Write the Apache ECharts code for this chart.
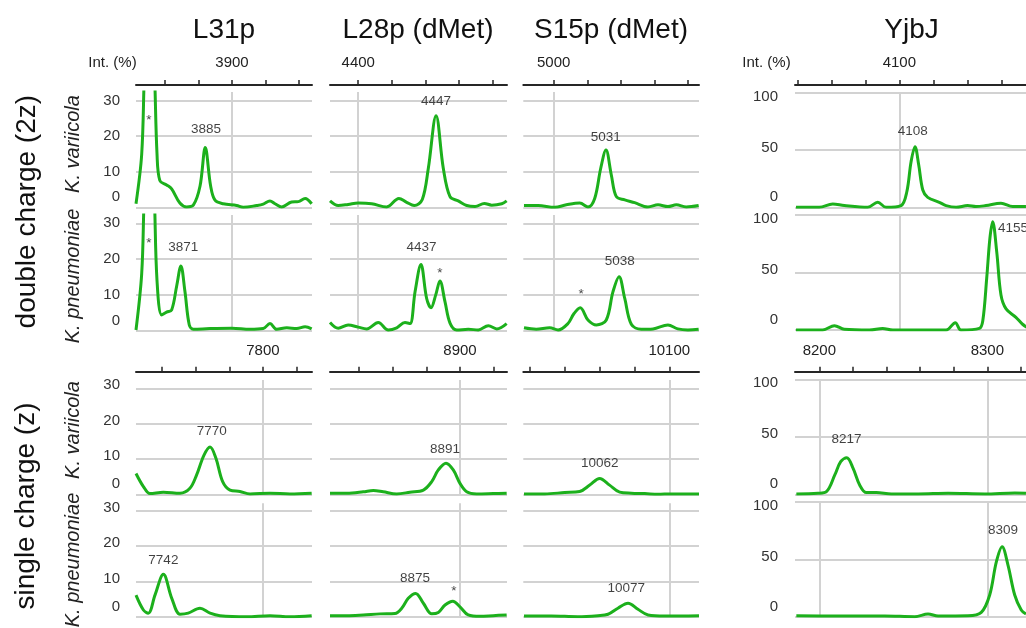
<!DOCTYPE html>
<html>
<head>
<meta charset="utf-8">
<script src="https://cdn.jsdelivr.net/npm/echarts@6/dist/echarts.min.js"></script>
<style>html,body{margin:0;padding:0;background:#fff}#c{width:1026px;height:628px}</style>
</head>
<body>
<div id="c"></div>
<script>
// ---------------- text ----------------
const proteins = ['L31p', 'L28p (dMet)', 'S15p (dMet)', 'YjbJ'];
const charges = ['double charge (2z)', 'single charge (z)'];
const strains = ['K. variicola', 'K. pneumoniae'];
const intLabel = 'Int. (%)';

// ---------------- axes (m/z) ----------------
const range2z = [[3842.9, 3947.6], [4383.2, 4488.5], [4981.9, 5086.5], [4038.6, 4200]];
const range1z = [[7724.4, 7829.2], [8822.6, 8928.0], [10016.1, 10117.1], [8185.5, 8348.8]];
const ticks2z = [[3860, 3880, 3900, 3920, 3940], [4400, 4420, 4440, 4460, 4480], [5000, 5020, 5040, 5060, 5080], [4040, 4060, 4080, 4100, 4120, 4140, 4160, 4180]];
const labels2z = [[3900], [4400], [5000], [4100]];
const ticks1z = [[7740, 7760, 7780, 7800, 7820], [8840, 8860, 8880, 8900, 8920], [10020, 10040, 10060, 10080, 10100], [8200, 8220, 8240, 8260, 8280, 8300, 8320, 8340]];
const labels1z = [[7800], [8900], [10100], [8200, 8300]];
const yMaxPct = [32.45, 32.32, 32.35, 32.1];
const yMaxYjbJ = 100;

// ---------------- spectra [m/z, intensity %] ----------------
const L31p_2z_Kvar = [[3842.9,1.0],[3846.3,15],[3847.9,38],[3850.9,70],[3853.9,38],[3855.4,15],[3857.1,7.5],[3861.1,6.3],[3864.1,5.2],[3869.0,1.2],[3873.0,0.1],[3877.0,0.6],[3881.0,6.0],[3884.1,16.8],[3887.3,6.0],[3889.9,2.0],[3894.8,1.0],[3902.8,0.5],[3906.7,0.0],[3914.7,0.5],[3918.6,0.9],[3922.6,1.8],[3925.6,1.0],[3929.6,0.1],[3935.5,1.5],[3939.5,1.6],[3943.5,2.5],[3947.4,1.0]];
const L31p_2z_Kpn = [[3842.9,0.2],[3846.3,16],[3847.8,38],[3850.9,70],[3853.8,38],[3855.4,14],[3858.2,4.4],[3861.1,5.2],[3864.1,5.8],[3867.1,12.5],[3869.6,18.1],[3872.0,11],[3874.6,1.6],[3877.0,0.4],[3886.9,0.6],[3900,0.7],[3910.7,0.4],[3918.6,0.6],[3922.6,2.0],[3926.6,0.4],[3932.6,0.8],[3938.5,0.6],[3943.5,1.1],[3947.4,0.5]];
const L28p_2z_Kvar = [[4383.2,1.8],[4388.1,0.5],[4394.0,0.8],[4400,1.2],[4408.0,1.0],[4416.9,0.1],[4424.2,2.5],[4428.8,1.4],[4433.3,0.5],[4438.1,2.2],[4441.7,11],[4446.3,25.8],[4450.6,11],[4454.6,3.0],[4459.5,1.8],[4464.5,0.5],[4469.5,0.2],[4475.0,1.1],[4479.4,0.6],[4485.4,1.0],[4488.3,1.8]];
const L28p_2z_Kpn = [[4383.2,2.3],[4388.1,0.7],[4394.0,1.6],[4400,1.0],[4405.0,0.5],[4411.9,2.3],[4417.9,0.2],[4422.9,0.8],[4427.8,2.3],[4430.8,2.0],[4433.8,10.9],[4437.3,18.5],[4440.7,9.0],[4443.3,6.4],[4446.1,10.0],[4448.6,13.9],[4451.6,8.1],[4454.6,2.1],[4458.6,0.2],[4465.5,0.4],[4471.4,0.2],[4477.4,1.4],[4482.4,0.5],[4488.3,2.0]];
const S15p_2z_Kvar = [[4982.3,0.5],[4990.7,0.5],[5000.6,0],[5007.5,0.7],[5015.5,1.2],[5020.4,0.1],[5024.4,2.5],[5028.0,11.0],[5031.1,16.1],[5034.3,9.1],[5037.3,3.0],[5042.3,2.1],[5048.2,1.3],[5056.1,0.1],[5062.1,0.7],[5068.0,0.2],[5073.0,0.7],[5078.9,0.1],[5086.3,0.5]];
const S15p_2z_Kpn = [[4982.3,0.8],[4989.6,0.4],[4997.6,0.8],[5002.6,0.2],[5008.5,2.0],[5012.1,4.8],[5015.8,6.4],[5020.4,3.0],[5025.4,1.6],[5031.3,3.0],[5035.3,10.9],[5038.9,15.1],[5042.3,9.0],[5046.2,1.8],[5052.1,0.4],[5059.1,0.5],[5068.0,1.6],[5073.9,0.5],[5079.9,0.2],[5086.3,0.4]];
const YjbJ_2z_Kvar = [[4039.2,0],[4052.9,0],[4060.8,2.9],[4067.6,1.5],[4081.4,0],[4087.3,4.4],[4092.2,0],[4101.0,1.5],[4104.4,13.6],[4106.9,39.8],[4109.2,52.9],[4111.4,36.9],[4113.8,15.1],[4116.7,8.7],[4123.5,4.4],[4127.5,1.5],[4133.4,0],[4140.2,1.5],[4145.1,0.6],[4151.0,1.5],[4159.8,3.5],[4166.7,0.6],[4174.5,0.6]];
const YjbJ_2z_Kpn = [[4039.2,0],[4054.9,0],[4061.8,3.8],[4067.6,0.6],[4082.4,0],[4090.2,1.4],[4096.1,0],[4127.5,0],[4132.9,6.4],[4136.3,0],[4147.1,1.4],[4149.1,8],[4151.4,45],[4153.3,80],[4154.9,94.2],[4157.3,68],[4159.8,30.4],[4162.8,18.3],[4168.6,11.0],[4172.5,5],[4176,1.5]];
const L31p_1z_Kvar = [[7724.4,5.9],[7728.8,2.2],[7732.7,0.2],[7740.7,0.6],[7750.6,0.3],[7756.5,1.7],[7760.5,5.5],[7764.9,11.1],[7768.5,13.4],[7772.0,10.2],[7776.0,3.6],[7780.4,1.2],[7786.3,0.8],[7792.3,0.1],[7804.2,0.3],[7816.1,0.1],[7829.0,0.3]];
const L31p_1z_Kpn = [[7724.4,6.1],[7728.8,1.9],[7731.7,1.0],[7735.7,6.1],[7740.7,12.0],[7745.7,5.2],[7750.6,0.7],[7755.5,1.0],[7762.5,2.4],[7768.5,1.0],[7774.4,0.3],[7790.3,0],[7804.2,0.3],[7816.1,0],[7829.0,0.3]];
const L28p_1z_Kvar = [[8822.6,0.3],[8832.6,0.3],[8842.4,0.7],[8848.4,1.1],[8854.3,0.7],[8862.3,0.1],[8870.2,0.6],[8878.2,1.2],[8883.2,3.6],[8887.1,6.9],[8891.7,8.8],[8896.0,6.9],[8900,3.1],[8904.0,0.7],[8909.9,0.1],[8919.8,0.2],[8927.8,0.3]];
const L28p_1z_Kpn = [[8822.6,0.3],[8832.6,0.3],[8842.4,0.5],[8852.4,0.8],[8861.3,0.9],[8865.3,2.4],[8869.2,5.2],[8873.6,6.6],[8878.2,3.8],[8883.2,0.8],[8887.1,1.2],[8891.1,3.3],[8895.7,4.4],[8900,2.8],[8904.9,0.5],[8911.9,0.1],[8919.8,0.3],[8927.8,0.5]];
const S15p_1z_Kvar = [[10016.5,0.1],[10028.4,0.1],[10039.9,0.5],[10048.5,0.8],[10054.3,2.6],[10060.0,4.5],[10065.7,2.6],[10071.5,0.6],[10078.2,0.3],[10085.9,0.2],[10093.5,0],[10101.1,0.1],[10117.1,0.1]];
const S15p_1z_Kpn = [[10016.5,0.2],[10032.2,0.2],[10047.5,0],[10059.0,0.3],[10064.8,0.7],[10070.5,2.4],[10076.3,3.8],[10082.0,2.1],[10087.8,0.5],[10097.4,0.2],[10117.1,0.3]];
const YjbJ_1z_Kvar = [[8186.3,0.3],[8199.2,0.9],[8204.2,2.3],[8209.2,16.8],[8212.7,28.4],[8216.3,31.8],[8220.1,22.6],[8224.0,8.1],[8228.0,1.5],[8233.9,1.5],[8242.9,0.3],[8258.8,0.3],[8276.6,0.9],[8298.5,0.3],[8316.3,1.2],[8323.0,0.9]];
const YjbJ_1z_Kpn = [[8186.3,0.8],[8209.2,0.6],[8238.9,0.6],[8256.8,0],[8264.7,2.3],[8270.7,0.6],[8288.5,0.8],[8296.4,3.8],[8301.4,18.9],[8305.4,48],[8308.8,61],[8312.3,45],[8316.3,18.9],[8320.2,5.8],[8323.0,2.3]];

// ---------------- peak annotations [m/z, intensity, text] ----------------
const notes_L31p_2z_Kvar = [[3850.6,24.5,'*'],[3884.5,22.0,'3885']];
const notes_L31p_2z_Kpn = [[3850.6,24.5,'*'],[3871.0,23.3,'3871']];
const notes_L28p_2z_Kvar = [[4446.3,29.9,'4447']];
const notes_L28p_2z_Kpn = [[4437.7,23.2,'4437'],[4448.5,16.1,'*']];
const notes_S15p_2z_Kvar = [[5031.0,19.7,'5031']];
const notes_S15p_2z_Kpn = [[5039.3,19.5,'5038'],[5016.4,10.1,'*']];
const notes_YjbJ_2z_Kvar = [[4107.9,66.6,'4108']];
const notes_YjbJ_2z_Kpn = [[4157.7,88.4,'4155']];
const notes_L31p_1z_Kvar = [[7769.5,17.7,'7770']];
const notes_L31p_1z_Kpn = [[7740.7,16.0,'7742']];
const notes_L28p_1z_Kvar = [[8891.1,12.8,'8891']];
const notes_L28p_1z_Kpn = [[8873.2,10.9,'8875'],[8896.4,7.2,'*']];
const notes_S15p_1z_Kvar = [[10060.0,8.8,'10062']];
const notes_S15p_1z_Kpn = [[10075.3,8.0,'10077']];
const notes_YjbJ_1z_Kvar = [[8216.1,48.1,'8217']];
const notes_YjbJ_1z_Kpn = [[8309.3,75.6,'8309']];

const spectra = [
  [L31p_2z_Kvar, L28p_2z_Kvar, S15p_2z_Kvar, YjbJ_2z_Kvar],
  [L31p_2z_Kpn,  L28p_2z_Kpn,  S15p_2z_Kpn,  YjbJ_2z_Kpn],
  [L31p_1z_Kvar, L28p_1z_Kvar, S15p_1z_Kvar, YjbJ_1z_Kvar],
  [L31p_1z_Kpn,  L28p_1z_Kpn,  S15p_1z_Kpn,  YjbJ_1z_Kpn]
];
const notes = [
  [notes_L31p_2z_Kvar, notes_L28p_2z_Kvar, notes_S15p_2z_Kvar, notes_YjbJ_2z_Kvar],
  [notes_L31p_2z_Kpn,  notes_L28p_2z_Kpn,  notes_S15p_2z_Kpn,  notes_YjbJ_2z_Kpn],
  [notes_L31p_1z_Kvar, notes_L28p_1z_Kvar, notes_S15p_1z_Kvar, notes_YjbJ_1z_Kvar],
  [notes_L31p_1z_Kpn,  notes_L28p_1z_Kpn,  notes_S15p_1z_Kpn,  notes_YjbJ_1z_Kpn]
];

// ---------------- layout & style ----------------
const GREEN = '#1cb01c';
const GRID_GRAY = '#d2d2d2';
const AXIS_DARK = '#262626';
const FONT = '"Liberation Sans", Arial, Helvetica, sans-serif';
const colLeft = [136, 330, 523.3, 795];
const colWidth = [176, 177, 175.7, 274.3];
const rowTop = [92, 215, 380, 503.3];
const rowHeight = [115.3, 115.7, 114.3, 113.4];
const rowTopY = [92.7, 215, 379.3, 502];
const rowHeightY = [114.6, 115, 115, 114.7];
const axisLineY = [85, 371.7];

const labFont = {fontSize: 15, color: '#333', fontFamily: FONT};
const rich = {
  z: Object.assign({padding: [0, 0, 20, 0]}, labFont),
  u: Object.assign({padding: [0, 0, 6, 0]}, labFont),
  h: Object.assign({padding: [0, 0, 5, 0]}, labFont),
  d: Object.assign({padding: [8, 0, 0, 0]}, labFont),
  n: Object.assign({}, labFont)
};

const option = {
  animation: false,
  backgroundColor: '#ffffff',
  grid: [], xAxis: [], yAxis: [], series: [], graphic: []
};

for (let r = 0; r < 4; r++) {
  for (let c = 0; c < 4; c++) {
    const g = option.grid.length;
    const isY = c === 3;
    const showY = c === 0 || c === 3;
    const top = isY ? rowTopY[r] : rowTop[r];
    const height = isY ? rowHeightY[r] : rowHeight[r];
    const block = r < 2 ? 0 : 1;
    const first = r % 2 === 0;
    const range = block === 0 ? range2z[c] : range1z[c];
    const ticks = block === 0 ? ticks2z[c] : ticks1z[c];
    const labs = block === 0 ? labels2z[c] : labels1z[c];
    option.grid.push({left: colLeft[c], top: top, width: colWidth[c], height: height,
      containLabel: false, outerBoundsMode: 'none', show: false});
    option.xAxis.push({
      gridIndex: g, type: 'value', position: 'top', min: range[0], max: range[1],
      offset: top - axisLineY[block],
      axisLine: {show: first, onZero: false, lineStyle: {color: AXIS_DARK, width: 2}},
      axisTick: {show: first, inside: false, length: 5, customValues: ticks, lineStyle: {color: AXIS_DARK, width: 1.5}},
      axisLabel: {show: first, customValues: labs, margin: block === 0 ? 15 : 13.5, fontSize: 15, color: '#222', fontFamily: FONT,
        formatter: v => String(v)},
      splitLine: {show: true, showMinLine: true, showMaxLine: true,
        lineStyle: {color: ticks.map(t => labs.indexOf(t) >= 0 ? GRID_GRAY : 'rgba(0,0,0,0)'), width: 2}}
    });
    option.yAxis.push({
      gridIndex: g, type: 'value', min: 0, max: isY ? yMaxYjbJ : yMaxPct[r], interval: isY ? 50 : 10,
      axisLine: {show: false}, axisTick: {show: false},
      axisLabel: {show: showY, showMinLabel: true, showMaxLabel: isY, margin: isY ? 17 : 16,
        fontSize: 15, color: '#333', fontFamily: FONT, rich: rich,
        formatter: v => {
          if (v === 0) return '{z|0}';
          if (isY && v === 100) return '{d|100}';
          if (isY) return '{h|' + v + '}';
          return (r >= 2 ? '{u|' : '{n|') + v + '}';
        }},
      splitLine: {show: true, showMinLine: true, showMaxLine: isY, lineStyle: {color: GRID_GRAY, width: 2}}
    });
    option.series.push({
      type: 'line', xAxisIndex: g, yAxisIndex: g, data: spectra[r][c],
      showSymbol: false, symbol: 'none', smooth: 0.35, clip: true, silent: true, z: 3,
      lineStyle: {color: GREEN, width: 3}, itemStyle: {color: GREEN}
    });
    const leftAligned = (r === 1 && c === 3);
    option.series.push({
      type: 'scatter', xAxisIndex: g, yAxisIndex: g, silent: true, z: 4,
      symbolSize: 1, itemStyle: {color: 'rgba(0,0,0,0)'},
      data: notes[r][c].map(n => ({value: [n[0], n[1]], name: n[2]})),
      label: {show: true, position: leftAligned ? 'right' : 'inside', distance: 0,
        formatter: p => p.name, fontSize: 13.5, color: '#111', fontFamily: FONT}
    });
  }
}

// ---------------- free text ----------------
const titleX = [224, 418, 611, 911.5];
proteins.forEach((t, i) => option.graphic.push({type: 'text', x: titleX[i], y: 30,
  style: {text: t, fontSize: 28, fontFamily: FONT, fill: '#111', align: 'center', verticalAlign: 'middle'}}));
[[112.5, 62.5], [766.5, 62.5]].forEach(p => option.graphic.push({type: 'text', x: p[0], y: p[1],
  style: {text: intLabel, fontSize: 15, fontFamily: FONT, fill: '#222', align: 'center', verticalAlign: 'middle'}}));
[[27, 211.7], [26, 506]].forEach((p, i) => option.graphic.push({type: 'text', x: p[0], y: p[1], rotation: Math.PI / 2,
  style: {text: charges[i], fontSize: 28, fontFamily: FONT, fill: '#111', align: 'center', verticalAlign: 'middle'}}));
[[73, 144, 0], [73, 276, 1], [73, 430, 0], [73, 560, 1]].forEach(p => option.graphic.push({type: 'text', x: p[0], y: p[1], rotation: Math.PI / 2,
  style: {text: strains[p[2]], fontSize: 20, fontStyle: 'italic', fontFamily: FONT, fill: '#222', align: 'center', verticalAlign: 'middle'}}));

const chart = echarts.init(document.getElementById('c'), null, {renderer: 'canvas'});
chart.setOption(option);
</script>
</body>
</html>
